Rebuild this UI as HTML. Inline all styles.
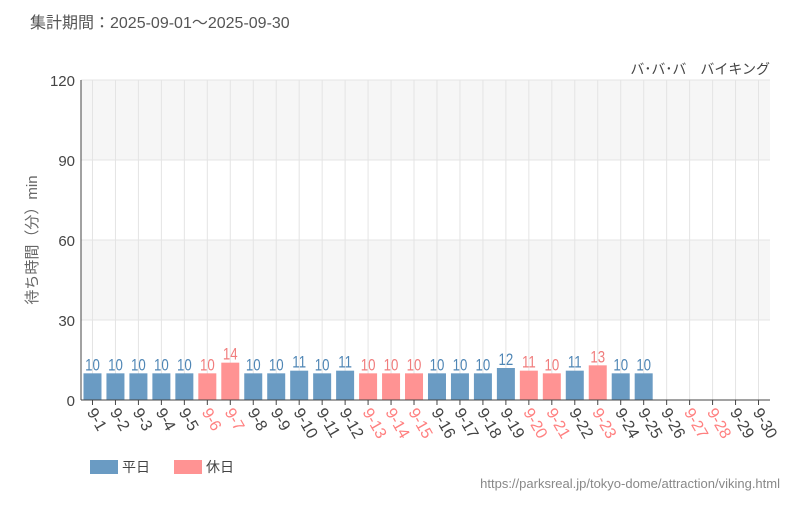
<!DOCTYPE html>
<html><head><meta charset="utf-8">
<style>
body{margin:0;background:#fff;}
svg text{font-family:"Liberation Sans","Noto Sans CJK JP",sans-serif;}
</style></head>
<body>
<svg id="c" width="800" height="500" xmlns="http://www.w3.org/2000/svg">
<text x="30" y="28" font-size="16" fill="#555">集計期間：2025-09-01～2025-09-30</text>
<text x="770" y="74" font-size="14" fill="#444" text-anchor="end">バ･バ･バ　バイキング</text>
<text transform="translate(37,240) rotate(-90)" font-size="15" fill="#666" text-anchor="middle">待ち時間（分）min</text>
<rect x="90" y="460" width="28" height="14" fill="#6a9bc3"/>
<text x="122" y="472" font-size="14" fill="#444">平日</text>
<rect x="174" y="460" width="28" height="14" fill="#ff9393"/>
<text x="206" y="472" font-size="14" fill="#444">休日</text>
<text x="780" y="488" font-size="13" fill="#888" text-anchor="end">https://parksreal.jp/tokyo-dome/attraction/viking.html</text>
</svg>
<script>
const categories=["9-1","9-2","9-3","9-4","9-5","9-6","9-7","9-8","9-9","9-10","9-11","9-12","9-13","9-14","9-15","9-16","9-17","9-18","9-19","9-20","9-21","9-22","9-23","9-24","9-25","9-26","9-27","9-28","9-29","9-30"];
const values=[10,10,10,10,10,10,14,10,10,11,10,11,10,10,10,10,10,10,12,11,10,11,13,10,10,null,null,null,null,null];
const holidays=[0,0,0,0,0,1,1,0,0,0,0,0,1,1,1,0,0,0,0,1,1,0,1,0,0,0,1,1,0,0];
const yTicks=[0,30,60,90,120];
const svg=document.getElementById('c');const NS="http://www.w3.org/2000/svg";
const L=81,R=770,T=80,B=400,yMax=120;
const slot=(R-L)/categories.length;
const x=i=>L+slot*(i+0.5);
const y=v=>B-(v/yMax)*(B-T);
function mk(t,a,p){const e=document.createElementNS(NS,t);for(const k in a)e.setAttribute(k,a[k]);(p||svg).appendChild(e);return e;}
const g=mk('g',{});


for(let k=0;k<yTicks.length-1;k++){
  if(k%2===1){const r=mk('rect',{x:L,y:y(yTicks[k+1]),width:R-L,height:y(yTicks[k])-y(yTicks[k+1]),fill:'#f6f6f6'},g);
  }
}
yTicks.forEach(t=>{
  const l=mk('line',{x1:L,x2:R,y1:y(t),y2:y(t),stroke:'#e4e4e4'},g);
  
  const tx=mk('text',{x:L-6,y:y(t)+6,'font-size':15,fill:'#444','text-anchor':'end'});
  tx.textContent=t;
  
});
categories.forEach((c,i)=>{
  const l=mk('line',{x1:x(i),x2:x(i),y1:T,y2:B,stroke:'#e4e4e4'},g);
  
});
categories.forEach((c,i)=>{
  const col=holidays[i]?'#ff9393':'#6a9bc3';
  const tcol=holidays[i]?'#f07c7c':'#4f86b5';
  const v=values[i];
  if(v!=null){
    const b=mk('rect',{x:x(i)-9,y:y(v),width:18,height:B-y(v),fill:col});
    
    const t=mk('text',{transform:`translate(${x(i)},${y(v)-3}) scale(0.78,1)`,'font-size':17,fill:tcol,'text-anchor':'middle'});
    t.textContent=v;
    
  }
  const tk=mk('line',{x1:x(i),x2:x(i),y1:B,y2:B+5,stroke:'#444'});
  
  const lt=mk('text',{transform:`translate(${x(i)-6},${B+12}) rotate(60)`,'font-size':16,fill:holidays[i]?'#ff8080':'#444'});
  lt.textContent=c;
  
});
const ax=mk('line',{x1:L,x2:L,y1:T,y2:B,stroke:'#444'});

const bx=mk('line',{x1:L,x2:R,y1:B,y2:B,stroke:'#444'});

</script>
</body></html>
